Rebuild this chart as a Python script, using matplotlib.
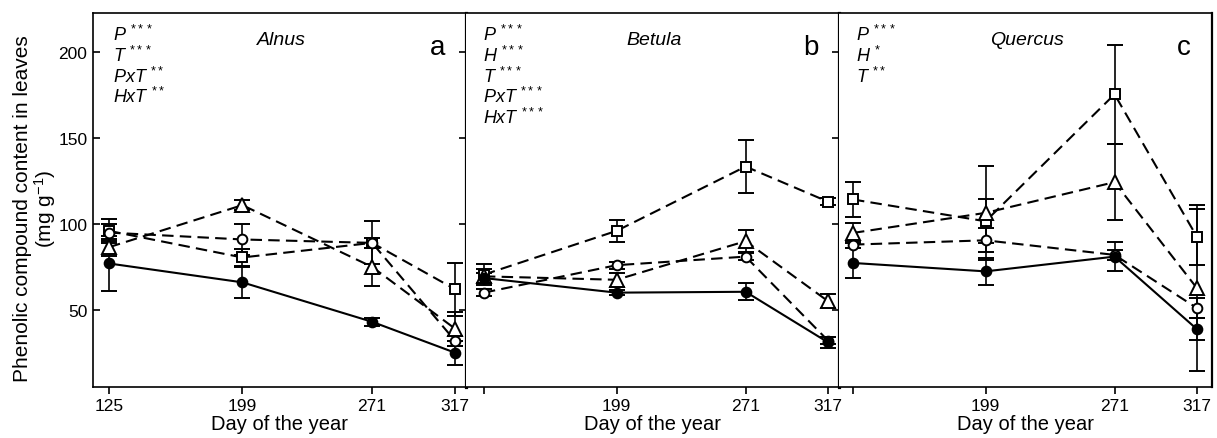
import numpy as np
import matplotlib
matplotlib.use("Agg")
import matplotlib.pyplot as plt

plt.rcParams['font.family'] = ['Liberation Sans', 'DejaVu Sans']
plt.rcParams['mathtext.fontset'] = 'custom'
plt.rcParams['mathtext.rm'] = 'Liberation Sans'
plt.rcParams['mathtext.it'] = 'Liberation Sans:italic'

days = [125, 199, 271, 317]
genera = ['Alnus', 'Betula', 'Quercus']
letters = ['a', 'b', 'c']

# values (mg g-1), one list per panel
alnus_filled = [77, 66, 43, 25]
alnus_filled_err = [16, 9, 2.5, 7]
alnus_circle = [95, 91, 89, 32]
alnus_circle_err = [5, 9, 3, 3]
alnus_square = [96, 80.5, 89, 62]
alnus_square_err = [7, 5, 12.5, 15.5]
alnus_triangle = [86.5, 111, 75, 39]
alnus_triangle_err = [5, 3, 11, 10]

betula_filled = [68.5, 60, 60.5, 31]
betula_filled_err = [3, 1.5, 5, 3]
betula_circle = [60, 76, 81, 32]
betula_circle_err = [2, 2, 2, 2]
betula_square = [70.5, 96, 133.5, 113]
betula_square_err = [6, 6.5, 15.5, 2]
betula_triangle = [69.5, 67.5, 90, 55]
betula_triangle_err = [4, 4, 6.5, 4]

quercus_filled = [77.3, 72.4, 81, 38.7]
quercus_filled_err = [9, 8, 8.5, 6.5]
quercus_circle = [88, 90.5, 82, 51]
quercus_circle_err = [2, 7, 3, 6]
quercus_square = [114.3, 101.6, 175.6, 92.5]
quercus_square_err = [10, 12.7, 29, 16.5]
quercus_triangle = [94.8, 106.5, 124.4, 62.6]
quercus_triangle_err = [6, 27.6, 22, 48.5]

stats = [
    ['P', '***', 'T', '***', 'PxT', '**', 'HxT', '**'],
    ['P', '***', 'H', '***', 'T', '***', 'PxT', '***', 'HxT', '***'],
    ['P', '***', 'H', '*', 'T', '**'],
]

panels = [
    (alnus_square, alnus_square_err, alnus_triangle, alnus_triangle_err,
     alnus_circle, alnus_circle_err, alnus_filled, alnus_filled_err),
    (betula_square, betula_square_err, betula_triangle, betula_triangle_err,
     betula_circle, betula_circle_err, betula_filled, betula_filled_err),
    (quercus_square, quercus_square_err, quercus_triangle, quercus_triangle_err,
     quercus_circle, quercus_circle_err, quercus_filled, quercus_filled_err),
]

xlims = [(116.1, 323.1), (115.0, 323.1), (117.2, 325.4)]
lefts = [93, 466, 839]

fig = plt.figure(figsize=(12.17, 4.39), dpi=100)
dash = (0, (5.5, 3))

for i in range(3):
    ax = fig.add_axes([lefts[i] / 1217, 51 / 439, 373 / 1217, 374 / 439])
    sq, sq_e, tr, tr_e, ci, ci_e, fi, fi_e = panels[i]
    common = dict(color='black', ecolor='black', elinewidth=1.2, capsize=5.6,
                  capthick=1.2, lw=1.5, mew=1.4)
    ax.errorbar(days, sq, yerr=sq_e, marker='s', ms=7, mfc='white', ls=dash, **common)
    ax.errorbar(days, tr, yerr=tr_e, marker='^', ms=9.5, mfc='white', ls=dash, **common)
    ax.errorbar(days, ci, yerr=ci_e, marker='o', ms=7, mfc='white', ls=dash, **common)
    ax.errorbar(days, fi, yerr=fi_e, marker='o', ms=7, mfc='black', ls='-', **common)

    ax.set_xlim(xlims[i])
    ax.set_ylim(5, 223)
    ax.set_xticks(days)
    if i == 0:
        ax.set_xticklabels([str(d) for d in days])
    else:
        ax.set_xticklabels([''] + [str(d) for d in days[1:]])
    ax.set_yticks([50, 100, 150, 200])
    ax.tick_params(axis='x', direction='out', length=5, width=1.2, labelsize=12.5, pad=3)
    if i == 0:
        ax.tick_params(axis='y', direction='out', length=5, width=1.2, labelsize=12.5, pad=4)
        ax.set_ylabel('Phenolic compound content in leaves\n(mg g$^{\\mathrm{-1}}$)',
                      fontsize=15, linespacing=1.0)
        ax.yaxis.set_label_coords(-0.094, 0.48)
    else:
        ax.tick_params(axis='y', left=False, labelleft=False)
        ax.spines['left'].set_visible(False)
    if i < 2:
        ax.tick_params(axis='y', which='both', right=True, direction='in', length=5, width=1.2)
        ax.spines['right'].set_linewidth(2.3)
    else:
        ax.spines['right'].set_linewidth(1.6)
    for s in ['top', 'bottom', 'left']:
        ax.spines[s].set_linewidth(1.2)

    ax.set_xlabel('Day of the year', fontsize=14.5, labelpad=1)

    ax.text(0.505, 0.917, genera[i], transform=ax.transAxes, fontsize=14,
            style='italic', ha='center', va='baseline')
    ax.text(0.925, 0.890, letters[i], transform=ax.transAxes, fontsize=20,
            ha='center', va='baseline')

    xs = 0.054 if i == 0 else 0.045
    lab = stats[i]
    for k in range(0, len(lab), 2):
        y = 0.929 - (k // 2) * 0.0561
        ax.text(xs, y, '$\\mathit{' + lab[k] + '}$ $^{' + lab[k + 1] + '}$',
                transform=ax.transAxes, fontsize=13, ha='left', va='baseline')

fig.savefig('out.png', dpi=100)
